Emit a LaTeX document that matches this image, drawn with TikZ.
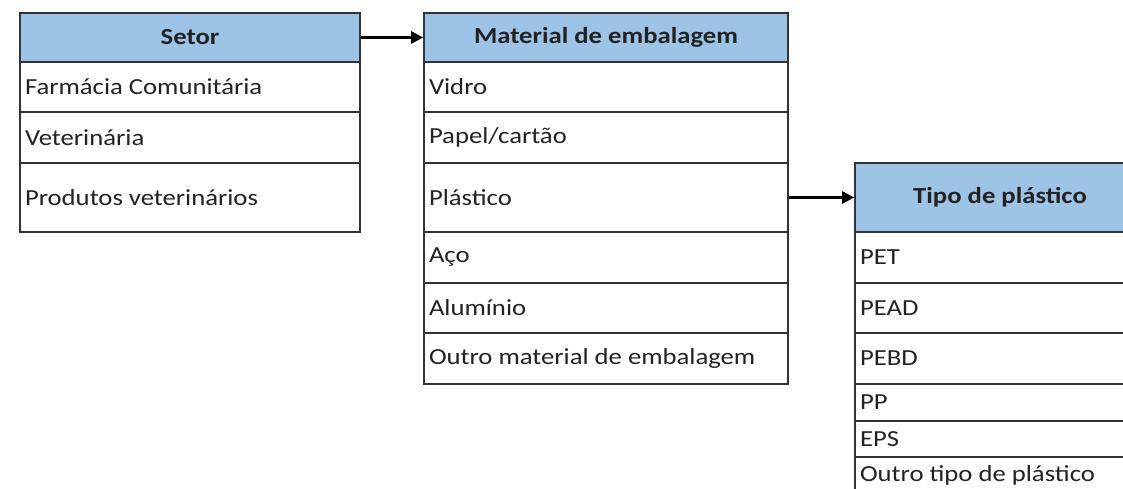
\documentclass[tikz,border=0pt]{standalone}
\usepackage{fontspec}
\setmainfont{Carlito}[FakeStretch=1.16]
\usetikzlibrary{arrows.meta}
\definecolor{hdr}{HTML}{9DC3E6}
\definecolor{bord}{HTML}{333333}
\definecolor{txt}{HTML}{222222}
\begin{document}
\begin{tikzpicture}[x=1pt,y=-1pt,
  cellbox/.style={draw=bord, line width=1.6pt, fill=white, inner xsep=5pt, inner ysep=0pt,
    align=flush left, text=txt, font=\fontsize{23}{27}\selectfont},
  hdrbox/.style={draw=bord, line width=1.6pt, fill=hdr, inner sep=0pt,
    align=center, text=txt, font=\fontsize{23}{27}\selectfont\bfseries},
  link/.style={draw=black, line width=2.6pt, -{Triangle[length=12pt,width=12pt]}}]
\useasboundingbox (0,0) rectangle (1123,489);
\clip (0,0) rectangle (1123,489);
\fill[white] (0,0) rectangle (1123,489);
% Table 1
\node[hdrbox, minimum width=340pt, minimum height=49pt] (s0) at (190,37.5) {Setor};
\node[cellbox, minimum width=340pt, text width=330pt, minimum height=50pt] (s1) at (190,87) {Farmácia Comunitária};
\node[cellbox, minimum width=340pt, text width=330pt, minimum height=51pt] (s2) at (190,137.5) {Veterinária};
\node[cellbox, minimum width=340pt, text width=330pt, minimum height=69pt] (s3) at (190,197.5) {Produtos veterinários};
% Table 2
\node[hdrbox, minimum width=364pt, minimum height=49pt] (m0) at (606,37.5) {Material de embalagem};
\node[cellbox, minimum width=364pt, text width=354pt, minimum height=50pt] (m1) at (606,87) {Vidro};
\node[cellbox, minimum width=364pt, text width=354pt, minimum height=51pt] (m2) at (606,137.5) {Papel/cartão};
\node[cellbox, minimum width=364pt, text width=354pt, minimum height=69pt] (m3) at (606,197.5) {Plástico};
\node[cellbox, minimum width=364pt, text width=354pt, minimum height=51pt] (m4) at (606,257.5) {Aço};
\node[cellbox, minimum width=364pt, text width=354pt, minimum height=50pt] (m5) at (606,308) {Alumínio};
\node[cellbox, minimum width=364pt, text width=354pt, minimum height=51pt] (m6) at (606,358.5) {Outro material de embalagem};
% Table 3
\node[hdrbox, minimum width=290pt, minimum height=69pt] (t0) at (1000,197.5) {Tipo de plástico};
\node[cellbox, minimum width=290pt, text width=280pt, minimum height=51pt] (t1) at (1000,257.5) {PET};
\node[cellbox, minimum width=290pt, text width=280pt, minimum height=50pt] (t2) at (1000,308) {PEAD};
\node[cellbox, minimum width=290pt, text width=280pt, minimum height=51pt] (t3) at (1000,358.5) {PEBD};
\node[cellbox, minimum width=290pt, text width=280pt, minimum height=37pt] (t4) at (1000,402.5) {PP};
\node[cellbox, minimum width=290pt, text width=280pt, minimum height=36pt] (t5) at (1000,439) {EPS};
\node[cellbox, minimum width=290pt, text width=280pt, minimum height=37pt] (t6) at (1000,475.5) {Outro tipo de plástico};
% connectors
\draw[link] (s0.east) -- (m0.west);
\draw[link] (m3.east) -- (t0.west);
\end{tikzpicture}
\end{document}
